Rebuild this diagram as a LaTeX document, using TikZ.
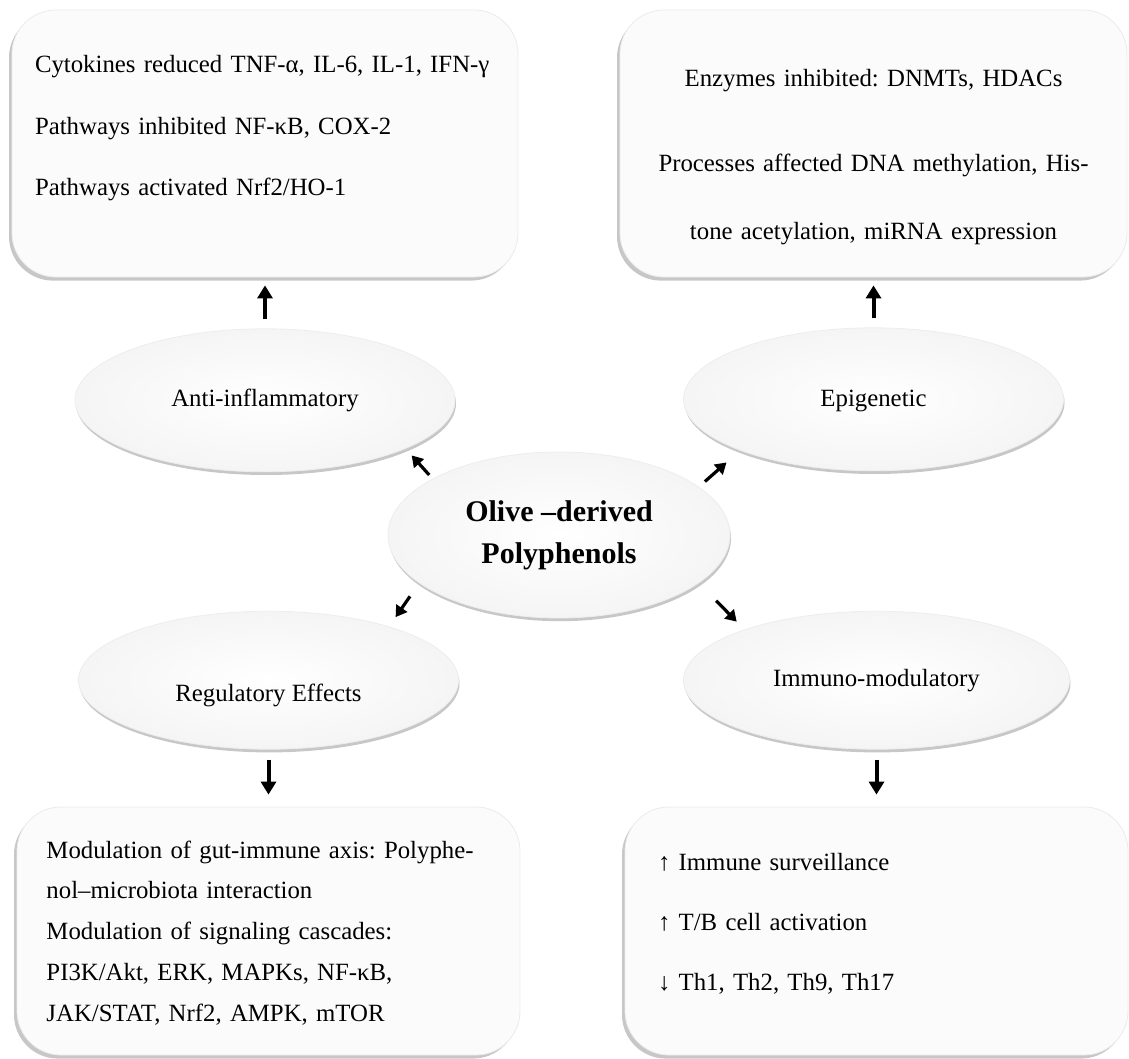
\documentclass[tikz,border=0pt]{standalone}
\usepackage{fontspec}
\setmainfont{Liberation Serif}
\usepackage{tikz}
\usetikzlibrary{arrows.meta, positioning, shapes.geometric, shadows}

\begin{document}
\frenchspacing
\begin{tikzpicture}[
    x=0.5pt, y=-0.5pt,
    panel/.style={
        rectangle, rounded corners=22pt,
        draw=black!8, fill=black!1.5,
        drop shadow={shadow xshift=-1.5pt, shadow yshift=-1.8pt, fill=black!55, opacity=.4},
        inner xsep=0pt, inner ysep=0pt, align=left,
        font=\fontsize{12.4}{15}\selectfont
    },
    oval/.style={
        ellipse, draw=black!7, inner color=white, outer color=black!4,
        drop shadow={shadow xshift=0.5pt, shadow yshift=-1.6pt, fill=black!55, opacity=.4},
        inner sep=0pt, minimum width=190pt, minimum height=71.5pt,
        font=\fontsize{12.4}{15}\selectfont
    },
    arrow/.style={-{Triangle[length=6.5pt, width=7.5pt]}, line width=2pt},
    diagarrow/.style={-{Triangle[length=5.5pt, width=6.5pt]}, line width=1.6pt}
]
\useasboundingbox (0,0) rectangle (1129,1059);

% outcome boxes
\node[panel, text width=230pt, minimum width=253pt, text height=31.5pt, text depth=102pt] (antibox) at (265,143.5)
    {Cytokines reduced TNF-α, IL-6, IL-1, IFN-γ\\[15.75pt]
     Pathways inhibited NF-κB, COX-2\\[15.75pt]
     Pathways activated Nrf2/HO-1};
\node[panel, align=center, text width=240pt, minimum width=253.5pt, text height=38.5pt, text depth=95pt] (epibox) at (873.5,143.5)
    {Enzymes inhibited: DNMTs, HDACs\\[27.5pt]
     Processes affected DNA methylation, His-\\[19pt]
     tone acetylation, miRNA expression};
\node[panel, text width=222pt, minimum width=251.5pt, text height=25.5pt, text depth=98.5pt] (regbox) at (268.5,931)
    {Modulation of gut-immune axis: Polyphe-\\[5.4pt]
     nol–microbiota interaction\\[5.4pt]
     Modulation of signaling cascades:\\[5.4pt]
     PI3K/Akt, ERK, MAPKs, NF-κB,\\[5.4pt]
     JAK/STAT, Nrf2, AMPK, mTOR};
\node[panel, text width=218.5pt, minimum width=251.5pt, text height=31.5pt, text depth=92.5pt] (immunobox) at (876.5,931)
    {↑ Immune surveillance\\[15pt]
     ↑ T/B cell activation\\[15pt]
     ↓ Th1, Th2, Th9, Th17};

% effect ellipses
\node[oval, below=25.5pt of antibox] (anti) {Anti-inflammatory};
\node[oval, text height=10pt, text depth=2.7pt, below=25pt of epibox] (epi) {Epigenetic};
\node[oval, minimum height=69pt, text height=24pt, text depth=3pt, above=28.5pt of regbox] (reg) {Regulatory Effects};
\node[oval, minimum width=193pt, minimum height=69pt, above=28.5pt of immunobox] (immuno) {Immuno-modulatory};

% centre
\node[oval, minimum width=171pt, minimum height=83pt, align=center,
      font=\fontsize{15}{21}\selectfont\bfseries] (olive) at (559,535)
    {Olive –derived\\Polyphenols};

\draw[arrow, shorten <=4.5pt, shorten >=4pt] (anti.north) -- (anti.north |- antibox.south);
\draw[arrow, shorten <=4.5pt, shorten >=4pt] (epi.north) -- (epi.north |- epibox.south);
\draw[arrow, shorten <=5pt, shorten >=6pt] (reg.south) -- (reg.south |- regbox.north);
\draw[arrow, shorten <=5pt, shorten >=6pt] (immuno.south) -- (immuno.south |- immunobox.north);

\draw[diagarrow, shorten <=2.5pt, shorten >=4.5pt] (olive.156) -- (anti.-19);
\draw[diagarrow, shorten <=4pt, shorten >=9pt] (olive.19) -- (epi.201);
\draw[diagarrow, shorten <=8pt, shorten >=5.7pt] (olive.199.5) -- (reg.24);
\draw[diagarrow, shorten <=12.3pt, shorten >=5.5pt] (olive.-19.5) -- (immuno.159);
\end{tikzpicture}
\end{document}
